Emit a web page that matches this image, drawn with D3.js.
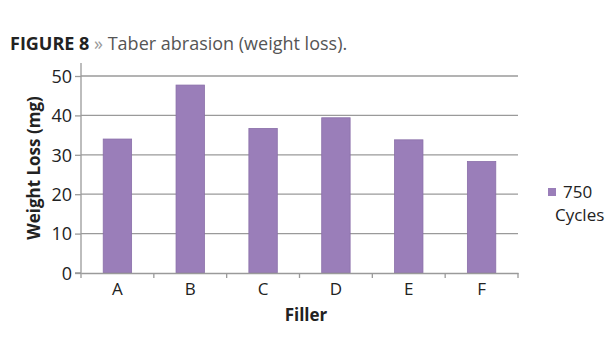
<!DOCTYPE html>
<html>
<head>
<meta charset="utf-8">
<script src="https://cdn.jsdelivr.net/npm/d3@7"></script>
<style>
  body { margin: 0; background: #fff; }
  text { font-family: "Open Sans", sans-serif; }
</style>
</head>
<body>
<div id="chart"></div>
<script>
const fillers = ["A", "B", "C", "D", "E", "F"];
const weightLoss = [34.0, 47.7, 36.7, 39.4, 33.8, 28.3];
const yTicks = [0, 10, 20, 30, 40, 50];
const seriesName = ["750", "Cycles"];

const width = 615, height = 350;
const margin = { left: 81, right: 97, top: 76, bottom: 77 };

let svg = d3.select("#chart").append("svg")
    .attr("width", width)
    .attr("height", height);

// title
let title = svg.append("text")
    .attr("x", 10)
    .attr("y", 50)
    .attr("font-size", 18);
title.append("tspan").text("FIGURE 8").attr("font-weight", "bold").attr("fill", "#222");
title.append("tspan").text(" » ").attr("fill", "#9a9a9a");
title.append("tspan").text("Taber abrasion (weight loss).").attr("fill", "#555");

let x = d3.scaleBand()
    .domain(fillers)
    .range([margin.left, width - margin.right])
    .paddingInner(0.61)
    .paddingOuter(0.305);

let y = d3.scaleLinear()
    .domain([0, 50])
    .range([height - margin.bottom, margin.top]);

// gridlines
svg.append("g")
    .selectAll("line")
    .data(yTicks.slice(1))
    .enter().append("line")
    .attr("x1", margin.left)
    .attr("x2", width - margin.right)
    .attr("y1", d => y(d))
    .attr("y2", d => y(d))
    .attr("stroke", "#9a9a9a")
    .attr("stroke-width", 1.3);

// bars
svg.append("g")
    .selectAll("rect")
    .data(weightLoss)
    .enter().append("rect")
    .attr("x", (d, i) => x(fillers[i]))
    .attr("width", x.bandwidth())
    .attr("y", d => y(d))
    .attr("height", d => y(0) - y(d))
    .attr("fill", "#9a7eb9")
    .attr("stroke", "#8a6fa9")
    .attr("stroke-width", 0.8);

// y axis
let yAxis = svg.append("g")
    .attr("transform", "translate(" + margin.left + ",0)")
    .call(d3.axisLeft(y).tickValues(yTicks).tickSize(6).tickPadding(3));
yAxis.select(".domain").attr("stroke", "#9a9a9a").attr("stroke-width", 1.3)
    .attr("d", "M-6," + y(0) + "H0V" + (margin.top - 13));
yAxis.selectAll(".tick line").attr("stroke", "#9a9a9a").attr("stroke-width", 1.3);
yAxis.selectAll("text")
    .attr("font-size", 18)
    .attr("fill", "#222")
    .attr("dy", "0.35em");

// x axis
let xAxis = svg.append("g")
    .attr("transform", "translate(0," + y(0) + ")")
    .call(d3.axisBottom(x).tickSize(0).tickPadding(10));
xAxis.select(".domain").attr("stroke", "#9a9a9a").attr("stroke-width", 1.3);
xAxis.selectAll("text")
    .attr("font-size", 17)
    .attr("fill", "#222");

// category separator ticks
let step = x.step();
svg.append("g")
    .selectAll("line")
    .data(d3.range(fillers.length + 1))
    .enter().append("line")
    .attr("x1", i => margin.left + i * step)
    .attr("x2", i => margin.left + i * step)
    .attr("y1", y(0))
    .attr("y2", y(0) + 5)
    .attr("stroke", "#9a9a9a")
    .attr("stroke-width", 1.3);

// axis titles
svg.append("text")
    .attr("x", 306)
    .attr("y", 321)
    .attr("text-anchor", "middle")
    .attr("font-weight", "bold")
    .attr("font-size", 17)
    .attr("fill", "#222")
    .text("Filler");

svg.append("text")
    .attr("transform", "translate(40,168) rotate(-90)")
    .attr("text-anchor", "middle")
    .attr("font-weight", "bold")
    .attr("font-size", 17)
    .attr("fill", "#222")
    .text("Weight Loss (mg)");

// legend
svg.append("rect")
    .attr("x", 548)
    .attr("y", 188)
    .attr("width", 8)
    .attr("height", 8)
    .attr("fill", "#9a7eb9");

svg.append("text")
    .attr("x", 563)
    .attr("y", 198)
    .attr("font-size", 17)
    .attr("fill", "#222")
    .text(seriesName[0]);

svg.append("text")
    .attr("x", 555)
    .attr("y", 221)
    .attr("font-size", 17)
    .attr("fill", "#222")
    .text(seriesName[1]);
</script>
</body>
</html>
